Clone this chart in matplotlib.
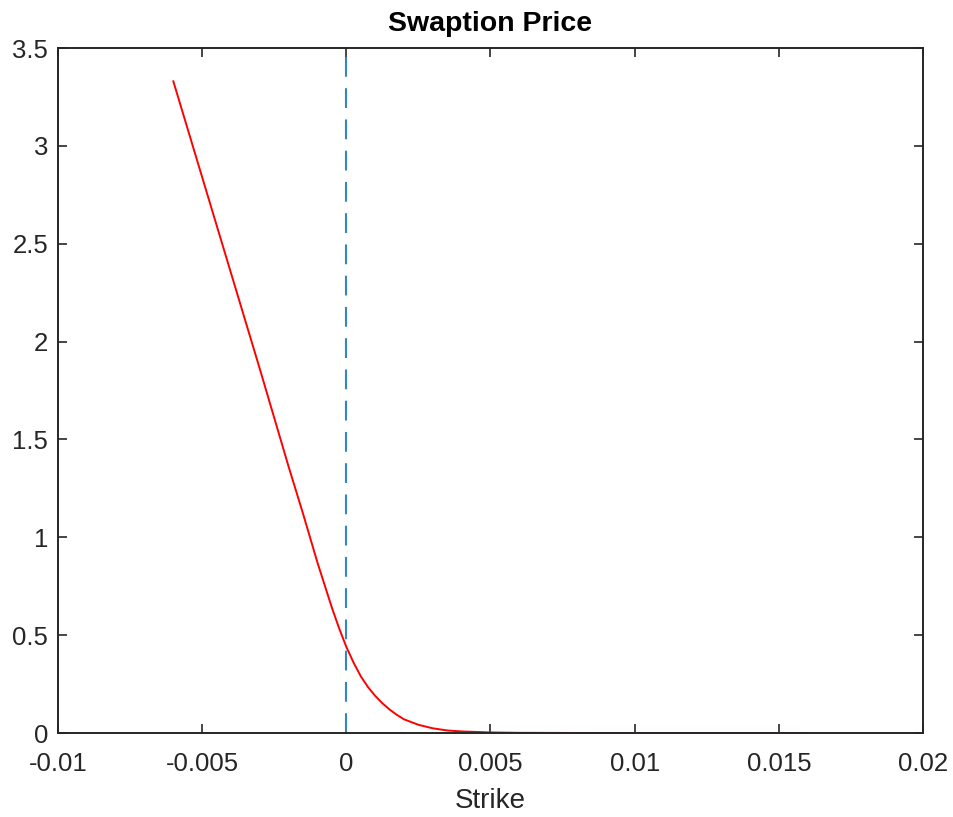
import matplotlib.pyplot as plt

strike = [-0.006, -0.005, -0.004, -0.003, -0.002, -0.0015, -0.001, -0.00075,
          -0.0005, -0.00025, 0.0, 0.00025, 0.0005, 0.00075, 0.001, 0.00125,
          0.0015, 0.00175, 0.002, 0.0025, 0.003, 0.0035, 0.004, 0.005, 0.006,
          0.008, 0.010, 0.012, 0.014, 0.016]
price = [3.33, 2.84, 2.35, 1.86, 1.36, 1.12, 0.87, 0.755,
         0.64, 0.535, 0.44, 0.36, 0.29, 0.235, 0.19, 0.152,
         0.12, 0.093, 0.07, 0.042, 0.024, 0.013, 0.008, 0.003, 0.001,
         0.0002, 0.0, 0.0, 0.0, 0.0]
ref_strike = 0.0

xticks = [-0.01, -0.005, 0, 0.005, 0.01, 0.015, 0.02]
xticklabels = ['-0.01', '-0.005', '0', '0.005', '0.01', '0.015', '0.02']
yticks = [0, 0.5, 1, 1.5, 2, 2.5, 3, 3.5]
yticklabels = ['0', '0.5', '1', '1.5', '2', '2.5', '3', '3.5']

plt.rcParams['font.family'] = ['Liberation Sans', 'DejaVu Sans']
dark = '#262626'

fig = plt.figure(figsize=(9.54, 8.17), dpi=100)
ax = fig.add_axes([0.0608, 0.1028, 0.9067, 0.8384])

ax.axvline(ref_strike, color='#2f86c9', lw=1.5, dashes=(9.5, 5.5))
ax.plot(strike, price, color='#ff0000', lw=1.4)

ax.set_xlim(-0.01, 0.02)
ax.set_ylim(0, 3.5)
ax.set_xticks(xticks)
ax.set_xticklabels(xticklabels)
ax.set_yticks(yticks)
ax.set_yticklabels(yticklabels)

ax.tick_params(direction='in', length=6.5, width=1.2, colors=dark,
               labelsize=18.5, top=True, right=True)
ax.tick_params(axis='x', pad=14)
ax.tick_params(axis='y', pad=7)
for s in ax.spines.values():
    s.set_color(dark)
    s.set_linewidth(1.4)

ax.set_xlabel('Strike', fontsize=20, color=dark, labelpad=8)
ax.set_title('Swaption Price', fontsize=20.5, fontweight='bold', color='black', pad=12)

fig.savefig('out.png', dpi=100)
